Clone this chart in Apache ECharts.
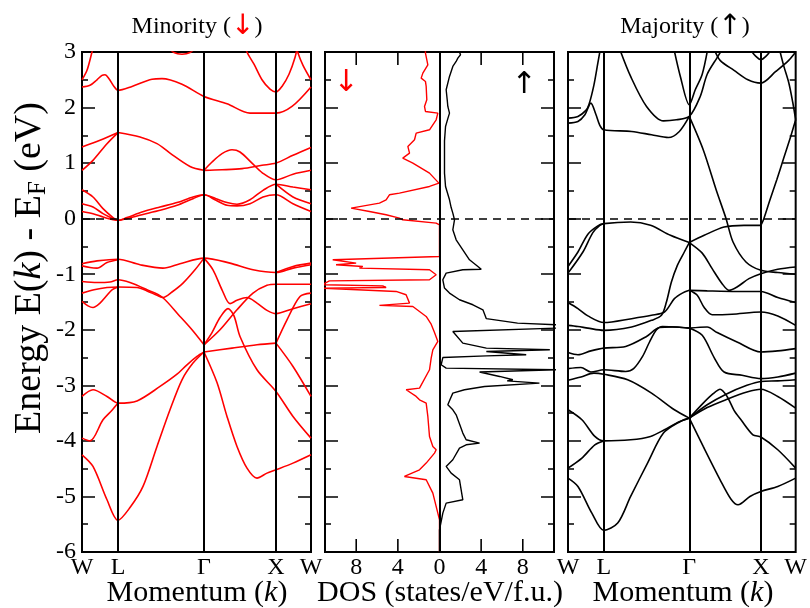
<!DOCTYPE html>
<html><head><meta charset="utf-8">
<script src="https://cdn.jsdelivr.net/npm/echarts@6/dist/echarts.min.js"></script>
<style>html,body{margin:0;padding:0;background:#fff}#c{width:810px;height:608px}</style>
</head><body><div id="c"></div>
<script>
// ---- tick/label data ----
const kTicks = [0, 36, 122, 194, 229];
const kLabels = ['W', 'L', 'Γ', 'X', 'W'];
const dosTicks = [-8, -4, 0, 4, 8];
const dosTickLabels = ['8', '4', '0', '4', '8'];

// ---- minority (spin down) bands: [k, E-EF] ----
const minorityBands = [
  [[0,2.5],[5,2.67],[10,3.0],[13,3.2]],
  [[213,3.2],[216,2.98],[221,2.76],[229,2.5]],
  [[162,3.2],[165,3.0],[172,2.78],[180,2.5],[188,2.33],[194,2.28],[200,2.38],[207,2.6],[213,2.9],[216,3.15]],
  [[85,3.1],[92,2.99],[100,2.96],[108,2.99],[115,3.1]],
  [[0,2.37],[8,2.4],[15,2.5],[20,2.58],[23,2.59],[27,2.52],[32,2.38],[36,2.31],[50,2.38],[70,2.51],[80,2.52],[100,2.42],[122,2.2],[145,2.07],[168,1.9],[194,1.9],[210,2.02],[229,2.37]],
  [[0,1.29],[18,1.41],[36,1.55]],
  [[0,0.87],[11,1.05],[25,1.35],[36,1.55]],
  [[36,1.55],[58,1.47],[75,1.35],[88,1.18],[108,0.94],[122,0.87]],
  [[122,0.87],[140,0.88],[160,0.9],[180,0.96],[194,1.0],[211,1.14],[229,1.28]],
  [[122,0.87],[130,1.02],[140,1.17],[150,1.24],[158,1.2],[170,1.0],[180,0.83],[194,0.7],[211,0.8],[229,0.87]],
  [[0,0.52],[11,0.39],[21,0.18],[31,0.02],[36,-0.03],[45,0.02],[60,0.12],[78,0.21],[95,0.29],[111,0.39],[122,0.43],[134,0.36],[145,0.29],[155,0.26],[168,0.34],[181,0.51],[194,0.62],[211,0.57],[229,0.52]],
  [[0,0.27],[11,0.21],[21,0.09],[31,0.0],[36,-0.03],[45,0.0],[60,0.07],[78,0.15],[95,0.24],[111,0.36],[122,0.43],[134,0.33],[145,0.24],[155,0.23],[168,0.27],[181,0.39],[194,0.43],[211,0.27],[229,0.13]],
  [[0,0.13],[11,0.09],[21,0.03],[31,-0.02],[36,-0.03]],
  [[194,0.62],[211,0.39],[229,0.27]],
  [[0,-0.81],[15,-0.76],[36,-0.73],[58,-0.83],[81,-0.89],[98,-0.81],[122,-0.71],[148,-0.8],[171,-0.92],[194,-0.97],[211,-0.89],[229,-0.83]],
  [[0,-0.85],[8,-0.88],[15,-0.89],[25,-0.79],[36,-0.74]],
  [[194,-0.97],[211,-0.86],[229,-0.8]],
  [[0,-1.13],[15,-1.15],[28,-1.14],[36,-1.1],[48,-1.15],[65,-1.28],[80,-1.41],[98,-1.76],[110,-2.0],[122,-2.27]],
  [[0,-1.34],[12,-1.28],[25,-1.24],[36,-1.23],[55,-1.24],[65,-1.3],[75,-1.38],[81,-1.42],[90,-1.32],[101,-1.16],[113,-0.92],[122,-0.71]],
  [[0,-1.49],[6,-1.57],[11,-1.6],[18,-1.52],[25,-1.38],[30,-1.28],[36,-1.23]],
  [[122,-0.71],[131,-0.92],[140,-1.28],[148,-1.53],[155,-1.47],[165,-1.42],[175,-1.52],[185,-1.65],[194,-1.71],[211,-1.62],[229,-1.53]],
  [[122,-2.27],[138,-2.0],[155,-1.64],[171,-1.34],[185,-1.2],[194,-1.18],[211,-1.18],[229,-1.18]],
  [[122,-2.27],[130,-2.05],[138,-1.78],[146,-1.62],[152,-1.75],[158,-2.12],[175,-2.72],[194,-3.11],[211,-3.56],[229,-3.95]],
  [[122,-2.4],[150,-2.33],[175,-2.27],[194,-2.24]],
  [[194,-2.24],[211,-2.66],[229,-3.2]],
  [[194,-2.24],[205,-1.82],[218,-1.4],[229,-1.34]],
  [[122,-2.4],[135,-2.95],[145,-3.56],[155,-4.1],[165,-4.49],[175,-4.67],[185,-4.58],[194,-4.52],[211,-4.4],[229,-4.25]],
  [[0,-3.2],[11,-3.08],[25,-3.2],[36,-3.32],[55,-3.28],[78,-3.02],[95,-2.8],[105,-2.63],[115,-2.48],[122,-2.4]],
  [[0,-3.95],[8,-4.0],[21,-3.62],[30,-3.45],[36,-3.32]],
  [[0,-4.25],[11,-4.46],[25,-5.06],[36,-5.43],[48,-5.2],[61,-4.82],[75,-4.1],[88,-3.44],[100,-2.9],[111,-2.6],[122,-2.4]]
];

// ---- majority (spin up) bands: [k, E-EF] ----
const majorityBands = [
  [[0,1.81],[10,1.84],[18,1.95],[21,2.05],[26,2.4],[30,2.8],[33,3.1]],
  [[0,1.72],[10,1.75],[17,1.87],[23,2.08],[28,1.88],[32,1.68],[36,1.6],[64,1.57],[84,1.51],[101,1.46],[112,1.57],[122,1.84]],
  [[122,1.84],[136,1.24],[149,0.52],[159,0.0],[166,-0.42],[179,-0.78],[194,-0.93],[211,-0.97],[229,-1.0]],
  [[51,3.1],[63,2.56],[79,2.02],[96,1.76],[109,1.78],[122,1.84],[133,2.2],[140,2.6],[150,2.9],[157,3.1]],
  [[106,3.1],[113,2.56],[122,2.05],[128,2.32],[135,2.6],[141,3.1]],
  [[147,3.05],[153,2.85],[167,2.67],[181,2.5],[194,2.44],[209,2.65],[222,2.85],[229,3.0]],
  [[183,3.05],[189,2.92],[194,2.86],[199,2.92],[205,3.05]],
  [[212,3.1],[217,2.75],[222,2.45],[226,2.1],[229,1.78]],
  [[0,-0.86],[10,-0.6],[20,-0.28],[30,-0.13],[36,-0.09],[63,-0.06],[83,-0.12],[103,-0.3],[122,-0.43]],
  [[122,-0.43],[137,-0.3],[157,-0.15],[177,-0.12],[194,-0.12]],
  [[194,-0.12],[197,0.0],[203,0.33],[210,0.7],[217,1.09],[224,1.48],[229,1.78]],
  [[0,-0.98],[15,-0.6],[25,-0.25],[32,-0.12],[36,-0.09]],
  [[0,-1.51],[10,-1.62],[20,-1.75],[36,-1.87],[64,-1.8],[84,-1.74],[97,-1.68],[107,-1.44],[115,-1.34],[122,-1.29]],
  [[0,-1.92],[10,-1.94],[20,-1.97],[36,-2.01],[64,-1.95],[84,-1.83],[94,-1.74],[99,-1.5],[104,-1.14],[110,-0.84],[117,-0.6],[122,-0.43]],
  [[122,-1.29],[140,-1.3],[170,-1.31],[194,-1.31],[211,-1.42],[229,-1.51]],
  [[122,-1.29],[130,-1.38],[137,-1.6],[145,-1.73],[165,-1.72],[194,-1.68],[211,-1.75],[229,-1.92]],
  [[122,-0.43],[135,-0.62],[145,-0.9],[155,-1.17],[162,-1.29],[170,-1.23],[182,-1.08],[194,-0.99],[211,-0.91],[229,-0.87]],
  [[0,-2.41],[10,-2.45],[23,-2.38],[36,-2.33],[58,-2.3],[79,-2.12],[92,-1.96],[105,-1.95],[122,-1.97]],
  [[0,-2.7],[13,-2.68],[23,-2.76],[36,-2.72],[58,-2.75],[66,-2.7],[75,-2.48],[82,-2.22],[89,-2.0],[95,-1.94],[110,-1.95],[122,-1.97]],
  [[0,-2.91],[13,-2.85],[26,-2.78],[36,-2.8],[60,-2.9],[84,-3.14],[107,-3.44],[122,-3.59]],
  [[122,-1.97],[140,-1.95],[150,-2.05],[170,-2.22],[194,-2.4],[211,-2.38],[229,-2.34]],
  [[122,-1.97],[135,-2.1],[147,-2.5],[157,-2.76],[175,-2.82],[194,-2.88],[211,-2.85],[229,-2.78]],
  [[122,-3.59],[140,-3.4],[160,-3.25],[180,-3.12],[194,-3.07],[211,-3.2],[229,-3.41]],
  [[122,-3.59],[140,-3.35],[160,-3.15],[180,-3.0],[194,-2.93],[211,-2.92],[229,-2.9]],
  [[122,-3.59],[136,-3.32],[146,-3.15],[153,-3.07],[160,-3.2],[167,-3.45],[174,-3.62],[186,-3.89],[194,-3.93],[211,-4.16],[229,-4.49]],
  [[122,-3.59],[136,-4.1],[153,-4.7],[164,-5.05],[171,-5.15],[183,-5.0],[194,-4.91],[211,-4.82],[229,-4.67]],
  [[0,-3.44],[14,-3.62],[27,-3.92],[36,-4.0],[63,-3.98],[83,-3.92],[97,-3.8],[109,-3.68],[122,-3.59]],
  [[0,-4.49],[14,-4.31],[27,-4.07],[36,-4.0]],
  [[0,-4.67],[10,-4.82],[24,-5.3],[36,-5.61],[50,-5.48],[63,-5.0],[80,-4.4],[96,-3.86],[113,-3.65],[122,-3.59]]
];

// ---- DOS: [states/eV/f.u., E-EF]; minority drawn on the negative side ----
const dosMinority = [[-1.35,3.05],[-1.35,2.98],[-1.12,2.77],[-1.6,2.62],[-1.76,2.53],[-1.35,2.47],[-1.28,2.38],[-1.22,2.14],[-1.44,2.02],[-1.35,1.93],[-0.16,1.9],[0,1.88],[-0.32,1.78],[-0.96,1.6],[-2.24,1.54],[-2.4,1.42],[-3.04,1.3],[-2.88,1.18],[-3.53,1.09],[-2.56,1.0],[-0.96,0.82],[-0.06,0.64],[-0.96,0.58],[-3.85,0.46],[-4.81,0.43],[-5.13,0.34],[-5.77,0.28],[-8.49,0.19],[-6.73,0.13],[-5.13,0.07],[-3.85,0.01],[-3.53,-0.02],[-0.32,-0.08],[0,-0.11],[0,-0.68],[-10.26,-0.74],[-8.01,-0.8],[-9.94,-0.83],[-7.37,-0.86],[-7.69,-0.89],[-0.96,-0.92],[-0.32,-1.01],[-0.96,-1.1],[-10.58,-1.12],[-11.3,-1.19],[-5.45,-1.21],[-5.13,-1.24],[-11.3,-1.25],[-4.17,-1.31],[-3.21,-1.37],[-2.88,-1.52],[-5.77,-1.56],[-2.56,-1.58],[-1.92,-1.67],[-1.28,-1.76],[-0.8,-1.9],[-0.48,-2.05],[-0.16,-2.21],[-0.64,-2.36],[-0.8,-2.51],[-0.96,-2.72],[-1.92,-3.05],[-3.2,-3.08],[-2.24,-3.2],[-1.92,-3.26],[-1.28,-3.32],[-1.12,-3.56],[-0.96,-3.92],[-0.64,-4.1],[-0.32,-4.16],[-0.48,-4.22],[-1.28,-4.4],[-1.92,-4.52],[-3.37,-4.64],[-1.28,-4.7],[-0.64,-4.94],[-0.16,-5.3],[0,-5.42],[0,-6]];
const dosMajority = [[1.92,3.05],[1.92,3.0],[2.02,2.95],[1.76,2.89],[1.6,2.83],[1.28,2.74],[0.96,2.56],[0.64,2.32],[0.74,2.14],[0.8,2.02],[0.96,1.9],[0.8,1.8],[0.58,1.66],[0.48,1.4],[0.48,1.24],[0.48,0.82],[0.58,0.58],[0.96,0.34],[1.12,0.2],[1.28,0.1],[1.44,-0.02],[1.28,-0.2],[1.6,-0.38],[2.24,-0.56],[2.88,-0.74],[3.69,-0.86],[4.01,-0.91],[2.24,-0.92],[0.64,-0.98],[0.32,-1.1],[0.48,-1.25],[0.96,-1.34],[1.92,-1.46],[3.21,-1.55],[4.17,-1.64],[4.5,-1.8],[7.5,-1.88],[11.3,-1.91],[11.3,-1.97],[1.28,-2.03],[2.24,-2.24],[4.5,-2.33],[10.6,-2.36],[4.5,-2.39],[8.33,-2.45],[4.5,-2.47],[0.32,-2.5],[0.16,-2.63],[0.64,-2.69],[11.3,-2.72],[3.85,-2.76],[5.77,-2.84],[7.05,-2.9],[6.5,-2.92],[9.6,-2.96],[4.33,-3.02],[2.4,-3.08],[1.28,-3.14],[1.0,-3.26],[0.8,-3.35],[1.28,-3.44],[1.6,-3.53],[2.24,-3.86],[2.56,-3.98],[3.85,-4.04],[2.56,-4.07],[1.92,-4.13],[1.28,-4.34],[0.64,-4.46],[1.12,-4.58],[1.92,-4.7],[2.24,-5.06],[0.64,-5.12],[0.32,-5.3],[0,-5.6],[0,-6]];

// ---- build chart ----
const SERIF = '"Liberation Serif", "Times New Roman", serif';
const RED = '#ff0000';
const TICK = {color:'#000', width:1.5};
const NOLINE = {show:false, onZero:false};
const E_MIN = -6, E_MAX = 3, PLOT_H = 500, TICK_PX = 13;

function energyAxis(gridIndex, position, showLabels) {
  return {type:'value', gridIndex, position, min:E_MIN, max:E_MAX, interval:1,
    axisLine:NOLINE, splitLine:{show:false},
    axisTick:{show:true, inside:true, length:TICK_PX, lineStyle:TICK},
    minorTick:{show:true, splitNumber:2, length:6, lineStyle:TICK},
    axisLabel:{show:showLabels, color:'#000', fontFamily:SERIF, fontSize:24, margin:6}};
}
function kAxis(gridIndex) {
  return {type:'value', gridIndex, position:'bottom', min:kTicks[0], max:kTicks[kTicks.length-1],
    axisLine:NOLINE, axisTick:{show:false}, splitLine:{show:false},
    axisLabel:{customValues:kTicks, formatter:v => kLabels[kTicks.indexOf(v)],
      color:'#000', fontFamily:SERIF, fontSize:24, margin:4, showMinLabel:true, showMaxLabel:true}};
}
function dosAxis(position, showLabels) {
  return {type:'value', gridIndex:1, position, min:-11, max:11,
    axisLine:NOLINE, splitLine:{show:false}, axisTick:{show:false},
    axisLabel:{show:showLabels, customValues:dosTicks, formatter:v => dosTickLabels[dosTicks.indexOf(v)],
      color:'#000', fontFamily:SERIF, fontSize:24, margin:4}};
}
const hsLines = kTicks.slice(1, kTicks.length-1).map(v => ({xAxis:v}));
const zeroLine = {yAxis:0, lineStyle:{type:[8,6], width:1.5, color:'#000'}};
function markLines(extra) {
  return {silent:true, symbol:['none','none'], label:{show:false}, animation:false,
    lineStyle:{color:'#000', width:2, type:'solid'}, emphasis:{disabled:true},
    data: extra};
}
function bandSeries(list, xi, yi, color) {
  return list.map((b, i) => {
    const s = {type:'line', xAxisIndex:xi, yAxisIndex:yi, data:b, showSymbol:false, symbol:'none',
      smooth:0.3, clip:true, silent:true, lineStyle:{color, width:1.6}};
    if (i === 0) s.markLine = markLines(hsLines.concat([zeroLine]));
    return s;
  });
}

const series = []
  .concat(bandSeries(minorityBands, 0, 0, RED))
  .concat(bandSeries(majorityBands, 3, 4, '#000'))
  .concat([
    {type:'line', xAxisIndex:1, yAxisIndex:2, data:dosMinority, showSymbol:false, symbol:'none', clip:true, silent:true,
      lineStyle:{color:RED, width:1.4}, markLine: markLines([{xAxis:0}, zeroLine])},
    {type:'line', xAxisIndex:1, yAxisIndex:2, data:dosMajority, showSymbol:false, symbol:'none', clip:true, silent:true,
      lineStyle:{color:'#000', width:1.4}}
  ]);

const gridStyle = {show:true, borderColor:'#000', borderWidth:2, backgroundColor:'transparent', containLabel:false};
const option = {
  animation:false,
  backgroundColor:'#fff',
  grid:[
    Object.assign({left:82, top:52, width:229, height:PLOT_H}, gridStyle),
    Object.assign({left:325, top:52, width:229, height:PLOT_H}, gridStyle),
    Object.assign({left:568, top:52, width:230, height:PLOT_H}, gridStyle)
  ],
  xAxis:[kAxis(0), dosAxis('bottom', true), dosAxis('top', false), kAxis(2)],
  yAxis:[
    energyAxis(0,'left',true), energyAxis(0,'right',false),
    energyAxis(1,'left',false), energyAxis(1,'right',false),
    energyAxis(2,'left',false), energyAxis(2,'right',false)
  ],
  series,
  graphic:[
    {type:'text', x:197, y:27, z:100, style:{text:'{a|Minority (}{b|↓}{a|)}', align:'center', verticalAlign:'middle',
      rich:{a:{fontFamily:SERIF, fontSize:24, fill:'#000'}, b:{fontFamily:'DejaVu Sans', fontSize:28, fill:RED}}}},
    {type:'text', x:685, y:27, z:100, style:{text:'{a|Majority (}{b|↑}{a|)}', align:'center', verticalAlign:'middle',
      rich:{a:{fontFamily:SERIF, fontSize:24, fill:'#000'}, b:{fontFamily:'DejaVu Sans', fontSize:28, fill:'#000'}}}},
    {type:'text', x:30, y:268, rotation:Math.PI/2, z:100, style:{text:'{n|Energy E(}{i|k}{n|) - E}{s|F}{n| (eV)}', align:'center', verticalAlign:'middle',
      rich:{n:{fontFamily:SERIF, fontSize:38, fill:'#000', lineHeight:42},
            i:{fontFamily:SERIF, fontSize:38, fontStyle:'italic', fill:'#000', lineHeight:42},
            s:{fontFamily:SERIF, fontSize:25, fill:'#000', lineHeight:26, verticalAlign:'bottom'}}}},
    {type:'text', x:197, y:593, z:100, style:{text:'{n|Momentum (}{i|k}{n|)}', align:'center', verticalAlign:'middle',
      rich:{n:{fontFamily:SERIF, fontSize:30, fill:'#000'}, i:{fontFamily:SERIF, fontSize:30, fontStyle:'italic', fill:'#000'}}}},
    {type:'text', x:440, y:593, z:100, style:{text:'DOS (states/eV/f.u.)', align:'center', verticalAlign:'middle',
      fontFamily:SERIF, fontSize:30, fill:'#000'}},
    {type:'text', x:683, y:593, z:100, style:{text:'{n|Momentum (}{i|k}{n|)}', align:'center', verticalAlign:'middle',
      rich:{n:{fontFamily:SERIF, fontSize:30, fill:'#000'}, i:{fontFamily:SERIF, fontSize:30, fontStyle:'italic', fill:'#000'}}}},
    {type:'text', x:346, y:83, z:100, style:{text:'↓', align:'center', verticalAlign:'middle', fontFamily:'DejaVu Sans', fontSize:30, fill:RED}},
    {type:'text', x:524, y:85, z:100, style:{text:'↑', align:'center', verticalAlign:'middle', fontFamily:'DejaVu Sans', fontSize:30, fill:'#000'}}
  ]
};
const chart = echarts.init(document.getElementById('c'), null, {renderer:'canvas'});
chart.setOption(option);

// DOS-axis ticks on the top and bottom frame edges, pointing inward; positions come from the axis scale
const tickGraphics = [];
dosTicks.filter(v => v !== 0).forEach((v, i) => {
  const top = chart.convertToPixel({xAxisIndex:1, yAxisIndex:2}, [v, E_MAX]);
  const bot = chart.convertToPixel({xAxisIndex:1, yAxisIndex:2}, [v, E_MIN]);
  tickGraphics.push({type:'line', id:'tt' + i, z:120, silent:true,
    shape:{x1:top[0], y1:top[1], x2:top[0], y2:top[1] + TICK_PX}, style:{stroke:'#000', lineWidth:1.6}});
  tickGraphics.push({type:'line', id:'tb' + i, z:120, silent:true,
    shape:{x1:bot[0], y1:bot[1], x2:bot[0], y2:bot[1] - TICK_PX}, style:{stroke:'#000', lineWidth:1.6}});
});
chart.setOption({graphic: option.graphic.concat(tickGraphics)});
</script>
</body></html>
